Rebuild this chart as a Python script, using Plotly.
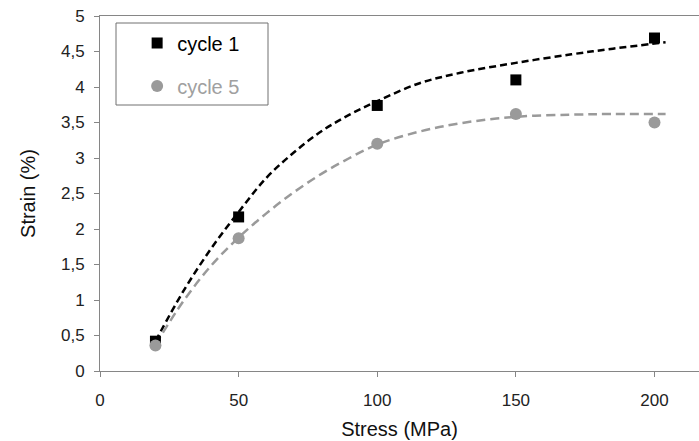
import plotly.graph_objects as go

# ---- data ----
stress = [20, 50, 100, 150, 200]
cycle1 = [0.42, 2.17, 3.74, 4.10, 4.69]
cycle5 = [0.36, 1.87, 3.20, 3.62, 3.50]

# dashed trend curves
trend_x = [20, 30, 40, 50, 60, 70, 80, 90, 100, 115, 130, 150, 170, 185, 204]
trend1 = [0.42, 1.12, 1.72, 2.24, 2.72, 3.08, 3.38, 3.61, 3.80, 4.05, 4.20, 4.34, 4.46, 4.54, 4.63]
trend5 = [0.37, 0.98, 1.48, 1.88, 2.22, 2.52, 2.78, 3.00, 3.19, 3.37, 3.49, 3.58, 3.61, 3.62, 3.62]

x_ticks = [0, 50, 100, 150, 200]
y_ticks = [0, 0.5, 1, 1.5, 2, 2.5, 3, 3.5, 4, 4.5, 5]
y_tick_labels = ["0", "0,5", "1", "1,5", "2", "2,5", "3", "3,5", "4", "4,5", "5"]

FONT = "Liberation Sans, Arial, sans-serif"
BLACK = "#000000"
GRAY = "#9a9a9a"
AXIS = "#868686"

fig = go.Figure()

fig.add_trace(go.Scatter(x=trend_x, y=trend1, mode="lines", line_shape="spline",
                         line=dict(color=BLACK, width=2.5, dash="7px,4px"),
                         showlegend=False, hoverinfo="skip"))
fig.add_trace(go.Scatter(x=trend_x, y=trend5, mode="lines", line_shape="spline",
                         line=dict(color=GRAY, width=2.5, dash="9px,5px"),
                         showlegend=False, hoverinfo="skip"))

fig.add_trace(go.Scatter(x=stress, y=cycle1, mode="markers", name="cycle 1",
                         legendgroup="a",
                         marker=dict(symbol="square", size=11, color=BLACK)))
fig.add_trace(go.Scatter(x=stress, y=cycle5, mode="markers",
                         name="<span style='color:#a0a0a0'>cycle 5</span>",
                         legendgroup="b",
                         marker=dict(symbol="circle", size=12, color=GRAY)))

fig.update_layout(
    width=699, height=441,
    margin=dict(l=100, r=0, t=16, b=70, autoexpand=False),
    paper_bgcolor="white", plot_bgcolor="white",
    font=dict(family=FONT, color="#222222"),
    showlegend=True,
    legend=dict(x=0.062, y=0.979, xanchor="left", yanchor="top",
                bgcolor="rgba(0,0,0,0)", borderwidth=0,
                font=dict(family=FONT, size=20, color="#000000"),
                traceorder="grouped", tracegroupgap=14),
    shapes=[dict(type="rect", xref="paper", yref="paper",
                 x0=16/599, x1=168/599, y0=(371-105)/355, y1=(371-23)/355,
                 line=dict(color="#707070", width=1), fillcolor="rgba(0,0,0,0)")],
    xaxis=dict(range=[0, 216.05], tickvals=x_ticks, ticks="outside", ticklen=5,
               tickcolor=AXIS, showline=True, linecolor=AXIS, linewidth=1,
               mirror=True, showgrid=False, zeroline=False, automargin=False,
               ticklabelstandoff=9,
               tickfont=dict(size=17, color="#222222"),
               title=dict(text="Stress (MPa)", font=dict(size=20, color="#111111"),
                          standoff=12)),
    yaxis=dict(range=[0, 5], tickvals=y_ticks, ticktext=y_tick_labels,
               ticks="outside", ticklen=5, tickcolor=AXIS, showline=True,
               linecolor=AXIS, linewidth=1, showgrid=False, zeroline=False,
               automargin=False, ticklabelstandoff=6,
               tickfont=dict(size=17, color="#222222"),
               title=dict(text="Strain (%)", font=dict(size=20, color="#111111"),
                          standoff=19)),
)

fig.write_html("out.html", config={"displayModeBar": False},
               post_script="document.body.style.margin='0px';document.body.style.overflow='hidden';")
